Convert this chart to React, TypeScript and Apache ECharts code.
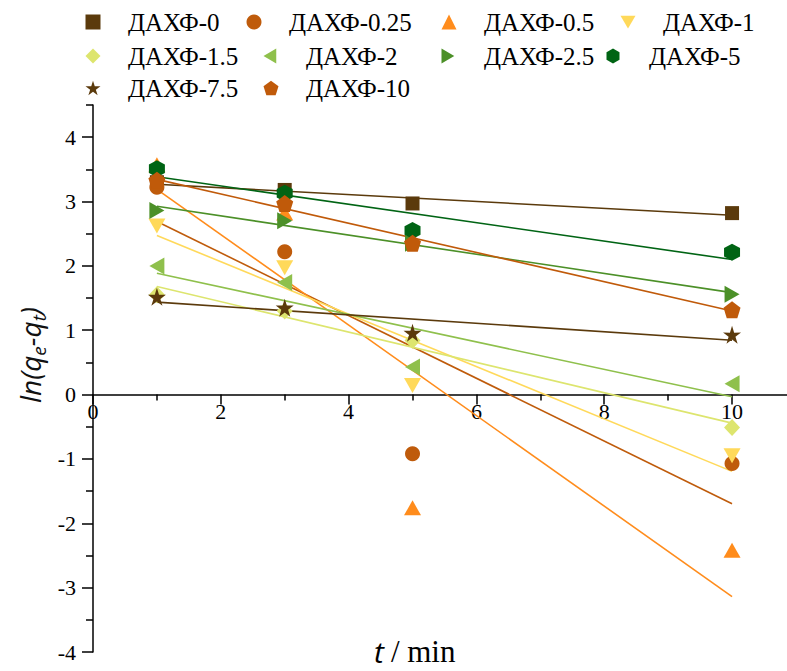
import React, { useEffect, useRef } from "react";
import * as echarts from "echarts";

// Sampling times, min
const TIMES = [1, 3, 5, 10];

// ln(qe - qt) for each sample
const LN_DAHF_0 = [3.3, 3.18, 2.97, 2.82];
const LN_DAHF_0_25 = [3.22, 2.22, -0.92, -1.07];
const LN_DAHF_0_5 = [3.57, 2.82, -1.76, -2.42];
const LN_DAHF_1 = [2.62, 1.97, 0.14, -0.95];
const LN_DAHF_1_5 = [1.55, 1.3, 0.84, -0.51];
const LN_DAHF_2 = [2.0, 1.74, 0.43, 0.17];
const LN_DAHF_2_5 = [2.86, 2.7, 2.35, 1.56];
const LN_DAHF_5 = [3.51, 3.13, 2.55, 2.21];
const LN_DAHF_7_5 = [1.52, 1.35, 0.96, 0.93];
const LN_DAHF_10 = [3.33, 2.97, 2.35, 1.32];

const SERIES_NAMES = [
  "ДАХФ-0",
  "ДАХФ-0.25",
  "ДАХФ-0.5",
  "ДАХФ-1",
  "ДАХФ-1.5",
  "ДАХФ-2",
  "ДАХФ-2.5",
  "ДАХФ-5",
  "ДАХФ-7.5",
  "ДАХФ-10",
];
const SERIES_VALUES = [
  LN_DAHF_0,
  LN_DAHF_0_25,
  LN_DAHF_0_5,
  LN_DAHF_1,
  LN_DAHF_1_5,
  LN_DAHF_2,
  LN_DAHF_2_5,
  LN_DAHF_5,
  LN_DAHF_7_5,
  LN_DAHF_10,
];

// Axis ticks
const X_MAJOR_TICKS = [0, 2, 4, 6, 8, 10];
const X_MINOR_TICKS = [1, 3, 5, 7, 9];
const Y_MAJOR_TICKS = [-4, -3, -2, -1, 0, 1, 2, 3, 4];
const Y_MINOR_TICKS = [-3.5, -2.5, -1.5, -0.5, 0.5, 1.5, 2.5, 3.5, 4.5];

const COLORS = [
  "#5b3a0c",
  "#bf5b0b",
  "#ff8c1c",
  "#ffd95a",
  "#dde56e",
  "#8fc04c",
  "#4c9028",
  "#006414",
  "#5b3a0c",
  "#c05a0a",
];

const STAR =
  "path://M10,0L12.23,6.93L19.51,6.91L13.61,11.17L15.88,18.09L10,13.8L4.12,18.09L6.39,11.17L0.49,6.91L7.77,6.93Z";
const PENTAGON = "path://M10,0L19.51,6.91L15.88,18.09L4.12,18.09L0.49,6.91Z";
const HEXAGON = "path://M10,0L18.66,5L18.66,15L10,20L1.34,15L1.34,5Z";
const DOWN_TRI = "path://M0,0L20,0L10,17Z";
const LEFT_TRI = "path://M17,0L17,20L0,10Z";
const RIGHT_TRI = "path://M0,0L17,10L0,20Z";

const SYMBOLS = [
  "rect",
  "circle",
  "triangle",
  DOWN_TRI,
  "diamond",
  LEFT_TRI,
  RIGHT_TRI,
  HEXAGON,
  STAR,
  PENTAGON,
];
const SYMBOL_SIZES: (number | number[])[] = [
  14,
  15,
  [17, 15],
  [17, 15],
  [16, 17],
  [15, 17],
  [15, 17],
  [16, 17],
  18,
  17,
];

// Legend layout: icon centre x, row centre y
const LEGEND_POS = [
  [93, 22],
  [254, 22],
  [449, 22],
  [628, 22],
  [93, 56],
  [271, 56],
  [449, 56],
  [614, 56],
  [93, 88],
  [271, 88],
];
const LEGEND_TEXT_GAP = 35;

// Least-squares straight line through a series, drawn between its first and last times
function fitLine(xs: number[], ys: number[]): number[][] {
  const n = xs.length;
  const mx = xs.reduce((a, b) => a + b, 0) / n;
  const my = ys.reduce((a, b) => a + b, 0) / n;
  let sxy = 0;
  let sxx = 0;
  for (let i = 0; i < n; i++) {
    sxy += (xs[i] - mx) * (ys[i] - my);
    sxx += (xs[i] - mx) * (xs[i] - mx);
  }
  const k = sxy / sxx;
  const b = my - k * mx;
  const x0 = xs[0];
  const x1 = xs[n - 1];
  return [
    [x0, k * x0 + b],
    [x1, k * x1 + b],
  ];
}

const SERIF = "Liberation Serif";
const SANS = "Open Sans";

const WIDTH = 787;
const HEIGHT = 671;
const GRID_LEFT = 93;
const GRID_TOP = 105;
const GRID_BOTTOM = 19;
const X_MIN = 0;
const X_MAX = 10.86;
const Y_MIN = -4;
const Y_MAX = 4.5;

const TICK_FONT = 22;
const LEGEND_FONT = 25;

// text width measured with the same installed font that the chart uses
const measureCtx = document.createElement("canvas").getContext("2d");
function textWidth(text: string, size: number, family: string, style = "normal"): number {
  if (!measureCtx) return text.length * size * 0.5;
  measureCtx.font = `${style} ${size}px "${family}"`;
  return measureCtx.measureText(text).width;
}

function plainText(text: string, x: number, y: number, size: number, family: string, fontStyle?: string) {
  const style: any = { text, fontFamily: family, fontSize: size, fill: "#000" };
  if (fontStyle) style.fontStyle = fontStyle;
  return { type: "text", x, y, style };
}

export default function App() {
  const ref = useRef<HTMLDivElement>(null);

  useEffect(() => {
    if (!ref.current) return;
    document.body.style.margin = "0";
    const chart = echarts.init(ref.current, undefined, { renderer: "svg" });

    // the time axis crosses the value axis at ln = 0
    const plotHeight = HEIGHT - GRID_TOP - GRID_BOTTOM;
    const zeroOffset = -(plotHeight * (0 - Y_MIN)) / (Y_MAX - Y_MIN);

    const lineSeries = SERIES_NAMES.map((name, i) => ({
      name: name + " fit",
      type: "line",
      data: fitLine(TIMES, SERIES_VALUES[i]),
      showSymbol: false,
      symbol: "none",
      lineStyle: { color: COLORS[i], width: 1.6 },
      itemStyle: { color: COLORS[i] },
      z: 2,
      silent: true,
    }));

    const scatterSeries = SERIES_NAMES.map((name, i) => ({
      name,
      type: "scatter",
      data: TIMES.map((t, j) => [t, SERIES_VALUES[i][j]]),
      symbol: SYMBOLS[i],
      symbolSize: SYMBOL_SIZES[i],
      itemStyle: { color: COLORS[i], opacity: 1 },
      z: 3,
    }));

    // legend markers; their serif names are set as separate texts below
    const legends = SERIES_NAMES.map((name, i) => ({
      data: [{ name, icon: SYMBOLS[i] }],
      left: LEGEND_POS[i][0] - 7.5,
      top: LEGEND_POS[i][1] - 12.5,
      padding: 0,
      itemWidth: 15,
      itemHeight: 15,
      selectedMode: false,
      formatter: " ",
      textStyle: { fontSize: LEGEND_FONT },
    }));

    const tickStyle = { color: "#000", width: 1.5 };

    chart.setOption({
      animation: false,
      backgroundColor: "#fff",
      legend: legends,
      grid: { left: GRID_LEFT, right: 0, top: GRID_TOP, bottom: GRID_BOTTOM, containLabel: false },
      xAxis: [
        {
          type: "value",
          min: X_MIN,
          max: X_MAX,
          position: "bottom",
          offset: zeroOffset,
          axisLine: { onZero: false, lineStyle: { color: "#000", width: 1.5 } },
          axisTick: { customValues: X_MAJOR_TICKS, length: 10, inside: false, lineStyle: tickStyle },
          axisLabel: { show: false },
          splitLine: { show: false },
        },
        {
          type: "value",
          min: X_MIN,
          max: X_MAX,
          position: "bottom",
          offset: zeroOffset,
          axisLine: { show: false, onZero: false },
          axisTick: { customValues: X_MINOR_TICKS, length: 6, inside: false, lineStyle: tickStyle },
          axisLabel: { show: false },
          splitLine: { show: false },
        },
      ],
      yAxis: [
        {
          type: "value",
          min: Y_MIN,
          max: Y_MAX,
          position: "left",
          axisLine: { show: true, onZero: false, lineStyle: { color: "#000", width: 1.5 } },
          axisTick: { customValues: Y_MAJOR_TICKS, length: 11, inside: false, lineStyle: tickStyle },
          axisLabel: { show: false },
          splitLine: { show: false },
        },
        {
          type: "value",
          min: Y_MIN,
          max: Y_MAX,
          position: "left",
          axisLine: { show: false, onZero: false },
          axisTick: { customValues: Y_MINOR_TICKS, length: 7, inside: false, lineStyle: tickStyle },
          axisLabel: { show: false },
          splitLine: { show: false },
        },
      ],
      series: [...lineSeries, ...scatterSeries],
    });

    // tick labels placed through the axes' own scales
    const px = (v: number) => chart.convertToPixel({ xAxisIndex: 0 }, v) as number;
    const py = (v: number) => chart.convertToPixel({ yAxisIndex: 0 }, v) as number;
    const zeroY = py(0);

    const xLabels = X_MAJOR_TICKS.map((v) => {
      const s = String(v);
      const w = textWidth(s, TICK_FONT, SERIF);
      return plainText(s, px(v) - w / 2, zeroY + 6, TICK_FONT, SERIF);
    });
    const yLabels = Y_MAJOR_TICKS.map((v) => {
      const s = String(v);
      const w = textWidth(s, TICK_FONT, SERIF);
      return plainText(s, px(0) - 17 - w, py(v) - TICK_FONT / 2, TICK_FONT, SERIF);
    });
    const legendNames = SERIES_NAMES.map((name, i) =>
      plainText(
        name,
        LEGEND_POS[i][0] + LEGEND_TEXT_GAP,
        LEGEND_POS[i][1] - LEGEND_FONT / 2,
        LEGEND_FONT,
        SERIF
      )
    );

    const tW = textWidth("t", 30, SANS, "italic");
    const xTitle = [
      plainText("t", 374, 651 - 15, 30, SANS, "italic"),
      plainText("/ min", 374 + tW + 7, 651 - 15.5, 31, SERIF),
    ];

    chart.setOption({
      graphic: [
        {
          type: "text",
          x: 30,
          y: 355,
          rotation: Math.PI / 2,
          style: {
            text: "{m|ln(q}{s|e}{m|-q}{s|t}{m|)}",
            align: "center",
            verticalAlign: "middle",
            fill: "#111",
            rich: {
              m: { fontFamily: SANS, fontStyle: "italic", fontSize: 28, lineHeight: 36 },
              s: { fontFamily: SANS, fontStyle: "italic", fontSize: 19, lineHeight: 19, verticalAlign: "bottom" },
            },
          },
        },
        ...xTitle,
        ...xLabels,
        ...yLabels,
        ...legendNames,
      ],
    });

    return () => chart.dispose();
  }, []);

  return (
    <div
      ref={ref}
      style={{ position: "absolute", left: 0, top: 0, width: WIDTH, height: HEIGHT }}
    />
  );
}
